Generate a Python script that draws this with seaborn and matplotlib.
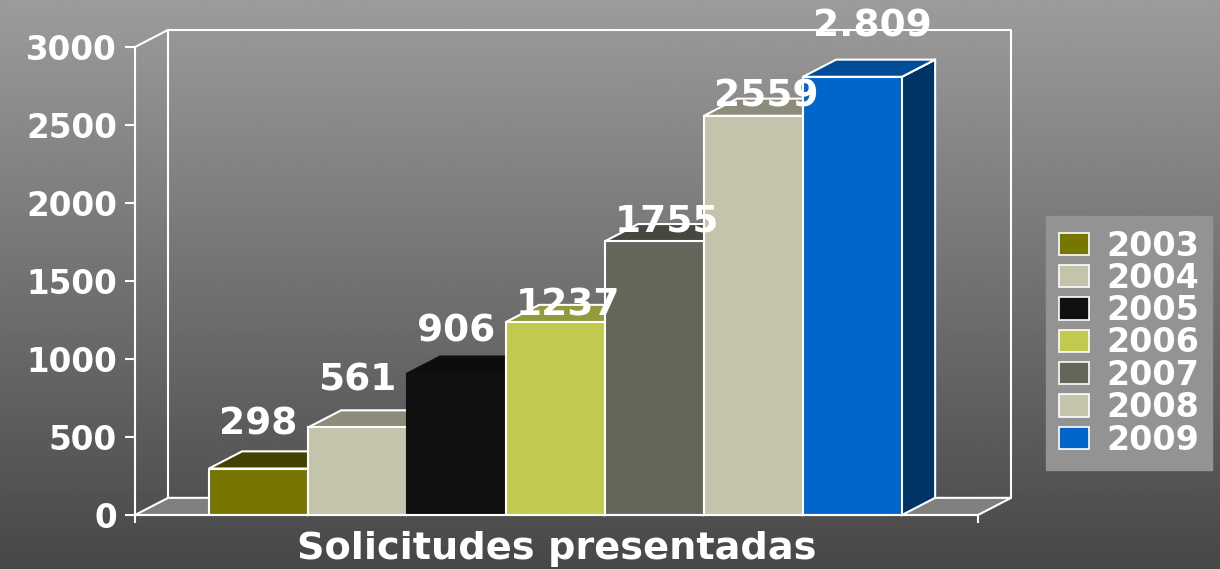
"""
plot.py
Solicitudes presentadas 2003-2009 — barras con efecto 3D
"""

import numpy as np
import pandas as pd
import matplotlib
matplotlib.use('Agg')
import matplotlib.pyplot as plt
from matplotlib.patches import Polygon, Patch
import seaborn as sns

# ── Datos ────────────────────────────────────────────────────────────────────
anios    = ['2003', '2004', '2005', '2006', '2007', '2008', '2009']
valores  = [298, 561, 906, 1237, 1755, 2559, 2809]
etiquetas = ['298', '561', '906', '1237', '1755', '2559', '2.809']
yticks   = [0, 500, 1000, 1500, 2000, 2500, 3000]
titulo_x = 'Solicitudes presentadas'

# ── Estilo ───────────────────────────────────────────────────────────────────
colores_frente = ['#767600', '#c4c3ab', '#101010', '#c1c94f',
                  '#63675a', '#c4c3ab', '#0066cc']
colores_tapa   = ['#434200', '#8d8c7b', '#0c0c0c', '#939a3c',
                  '#45483f', '#8d8c7b', '#004c99']
colores_lado   = ['#3b3b00', '#626155', '#080808', '#606427',
                  '#32342d', '#626155', '#003366']
colores_borde  = ['white', 'white', '#101010', 'white',
                  'white', 'white', 'white']
# desplazamiento vertical de cada etiqueta (pt, centro sobre la cara frontal)
subida_etq     = [32, 34, 30, 12, 14, 14, 36]

PROF_X = 0.335   # profundidad en unidades de categoría
PROF_Y = 110     # profundidad en unidades de valor
BLANCO = 'white'

sns.set_style('white')
plt.rcParams['font.family'] = ['DejaVu Sans']
plt.rcParams['font.weight'] = 'bold'

W, H = 1220, 569
fig = plt.figure(figsize=(W / 100, H / 100), dpi=100)

# fondo degradado
fondo = fig.add_axes([0, 0, 1, 1], zorder=-10)
grad = np.linspace(0.61, 0.28, 256).reshape(-1, 1)
fondo.imshow(grad, aspect='auto', cmap='gray', vmin=0, vmax=1,
             extent=[0, 1, 0, 1])
fondo.set_axis_off()

ax = fig.add_axes([135 / W, (H - 515) / H, (978 - 135) / W, (515 - 47) / H])
ax.patch.set_alpha(0)

df = pd.DataFrame({'anio': anios, 'valor': valores})
sns.barplot(data=df, x='anio', y='valor', hue='anio',
            palette=colores_frente, width=1.0, legend=False,
            edgecolor=BLANCO, linewidth=1.5, saturation=1, ax=ax)
barras = sorted([b for c in ax.containers for b in c], key=lambda p: p.get_x())

x_izq, x_der = -1.247, 7.268
ax.set_xlim(x_izq, x_der)
ax.set_ylim(0, 3000)

# piso y paredes del fondo
piso = Polygon([(x_izq, 0), (x_der, 0), (x_der + PROF_X, PROF_Y),
                (x_izq + PROF_X, PROF_Y)], closed=True,
               facecolor='#808080', edgecolor=BLANCO, lw=1.5,
               zorder=1, clip_on=False)
ax.add_patch(piso)
xb0, xb1 = x_izq + PROF_X, x_der + PROF_X
ax.plot([xb0, xb0, xb1, xb1], [PROF_Y, 3000 + PROF_Y, 3000 + PROF_Y, PROF_Y],
        color=BLANCO, lw=1.5, zorder=1, clip_on=False)
ax.plot([x_izq, xb0], [3000, 3000 + PROF_Y], color=BLANCO, lw=1.5,
        zorder=1, clip_on=False)

# caras superior y lateral de cada barra
for i, p in enumerate(barras):
    x0, w, h = p.get_x(), p.get_width(), p.get_height()
    x1 = x0 + w
    p.set_zorder(4 + 3 * i)
    p.set_edgecolor(colores_borde[i])
    tapa = Polygon([(x0, h), (x1, h), (x1 + PROF_X, h + PROF_Y),
                    (x0 + PROF_X, h + PROF_Y)], closed=True,
                   facecolor=colores_tapa[i], edgecolor=colores_borde[i],
                   lw=1.5, zorder=3 + 3 * i, clip_on=False)
    lado = Polygon([(x1, 0), (x1 + PROF_X, PROF_Y),
                    (x1 + PROF_X, h + PROF_Y), (x1, h)], closed=True,
                   facecolor=colores_lado[i], edgecolor=colores_borde[i],
                   lw=1.5, zorder=3 + 3 * i, clip_on=False)
    ax.add_patch(lado)
    ax.add_patch(tapa)
    ax.annotate(etiquetas[i], xy=(x0 + 0.1, h), xytext=(0, subida_etq[i]),
                textcoords='offset points', ha='left', va='center',
                fontsize=27, fontweight='bold', color=BLANCO,
                zorder=30, annotation_clip=False)

# ejes
for s in ['top', 'right']:
    ax.spines[s].set_visible(False)
ax.spines['left'].set_color(BLANCO)
ax.spines['left'].set_linewidth(1.5)
ax.spines['bottom'].set_color(BLANCO)
ax.spines['bottom'].set_linewidth(1.5)
ax.spines['bottom'].set_zorder(40)
ax.set_yticks(yticks)
ax.set_yticklabels([str(t) for t in yticks], fontsize=23.5,
                   fontweight='bold', color=BLANCO)
ax.tick_params(axis='y', direction='out', length=7, width=1.5,
               color=BLANCO, pad=6, left=True)
ax.set_xticks([x_izq, x_der])
ax.set_xticklabels(['', ''])
ax.tick_params(axis='x', direction='out', length=6, width=1.5,
               color=BLANCO, bottom=True)
ax.set_ylabel('')
ax.set_xlabel(titulo_x, fontsize=27.5, fontweight='bold', color=BLANCO,
              labelpad=2)

# leyenda
manijas = [Patch(facecolor=c, edgecolor=BLANCO, lw=1.2) for c in colores_frente]
leg = fig.legend(manijas, anios, loc='center left',
                 bbox_to_anchor=(1046 / W, (H - 343) / H),
                 frameon=True, fancybox=False, framealpha=1,
                 facecolor='#939393', edgecolor='#939393',
                 fontsize=24, handlelength=0.9, handleheight=0.66,
                 handletextpad=0.5, labelspacing=-0.02, borderpad=0.4,
                 borderaxespad=0)
for t in leg.get_texts():
    t.set_color(BLANCO)
    t.set_fontweight('bold')

fig.savefig('out.png', dpi=100)
